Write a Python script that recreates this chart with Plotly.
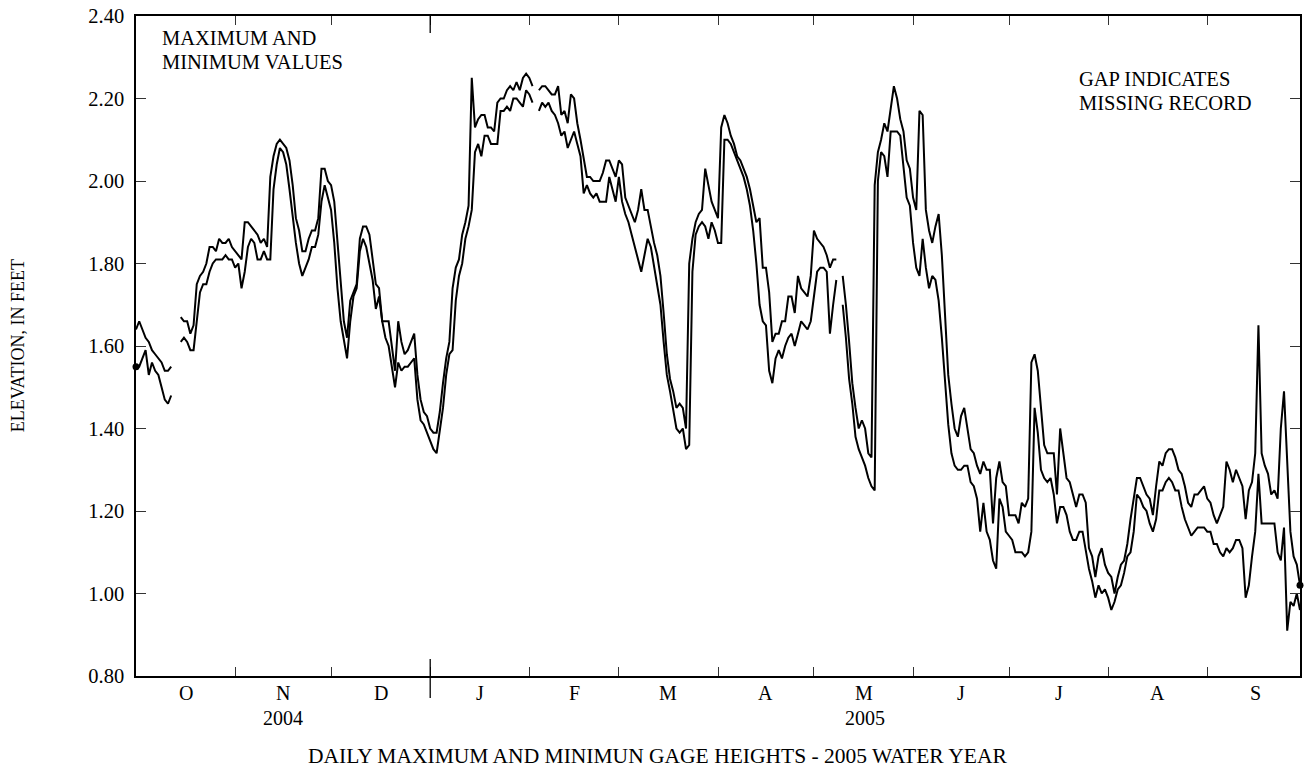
import pandas as pd
import plotly.graph_objects as go

# Daily maximum gage heights, 2005 water year (feet); None = missing record
daily_max = [
    1.64, 1.66, 1.64, 1.62, 1.61, 1.59, 1.58, 1.57, 1.56, 1.54,
    1.54, 1.55, None, None, 1.67, 1.66, 1.66, 1.63, 1.65, 1.75,
    1.77, 1.78, 1.80, 1.84, 1.84, 1.83, 1.86, 1.85, 1.85, 1.86,
    1.84, 1.83, 1.82, 1.81, 1.90, 1.90, 1.89, 1.88, 1.87, 1.85,
    1.86, 1.84, 2.01, 2.06, 2.09, 2.10, 2.09, 2.08, 2.05, 1.99,
    1.91, 1.88, 1.83, 1.83, 1.86, 1.88, 1.88, 1.91, 2.03, 2.03,
    2.00, 1.99, 1.95, 1.86, 1.75, 1.66, 1.62, 1.71, 1.73, 1.75,
    1.86, 1.89, 1.89, 1.87, 1.81, 1.75, 1.74, 1.66, 1.66, 1.66,
    1.60, 1.54, 1.66, 1.61, 1.58, 1.59, 1.61, 1.63, 1.53, 1.47,
    1.44, 1.43, 1.40, 1.39, 1.39, 1.44, 1.51, 1.57, 1.61, 1.74,
    1.79, 1.81, 1.87, 1.90, 1.94, 2.25, 2.13, 2.15, 2.16, 2.16,
    2.13, 2.13, 2.12, 2.19, 2.20, 2.20, 2.22, 2.23, 2.22, 2.24,
    2.22, 2.25, 2.26, 2.25, 2.23, None, 2.22, 2.23, 2.23, 2.22,
    2.21, 2.21, 2.23, 2.16, 2.17, 2.14, 2.21, 2.20, 2.14, 2.10,
    2.05, 2.01, 2.01, 2.00, 2.00, 2.00, 2.02, 2.05, 2.05, 2.03,
    2.01, 2.05, 2.04, 1.96, 1.94, 1.92, 1.90, 1.93, 1.98, 1.93,
    1.93, 1.89, 1.85, 1.82, 1.77, 1.68, 1.58, 1.52, 1.49, 1.45,
    1.46, 1.45, 1.40, 1.80, 1.86, 1.90, 1.92, 1.93, 2.03, 1.99,
    1.95, 1.93, 1.91, 2.13, 2.16, 2.14, 2.11, 2.09, 2.06, 2.05,
    2.03, 2.01, 1.98, 1.94, 1.90, 1.91, 1.79, 1.79, 1.73, 1.61,
    1.63, 1.63, 1.66, 1.66, 1.72, 1.72, 1.68, 1.77, 1.74, 1.73,
    1.72, 1.77, 1.88, 1.86, 1.85, 1.84, 1.82, 1.79, 1.81, 1.81,
    None, 1.77, 1.70, 1.61, 1.51, 1.45, 1.40, 1.42, 1.40, 1.34,
    1.33, 1.99, 2.07, 2.10, 2.14, 2.12, 2.17, 2.23, 2.20, 2.15,
    2.12, 2.05, 2.03, 1.96, 1.93, 2.17, 2.16, 1.93, 1.88, 1.85,
    1.89, 1.92, 1.82, 1.68, 1.53, 1.46, 1.40, 1.38, 1.43, 1.45,
    1.40, 1.35, 1.34, 1.31, 1.29, 1.32, 1.30, 1.30, 1.17, 1.28,
    1.32, 1.27, 1.26, 1.19, 1.19, 1.19, 1.17, 1.22, 1.21, 1.23,
    1.56, 1.58, 1.54, 1.44, 1.36, 1.34, 1.34, 1.34, 1.24, 1.40,
    1.34, 1.28, 1.27, 1.24, 1.21, 1.24, 1.24, 1.22, 1.11, 1.09,
    1.04, 1.09, 1.11, 1.07, 1.05, 1.04, 1.00, 1.04, 1.07,
    1.08, 1.12, 1.18, 1.23, 1.28, 1.28, 1.26, 1.24, 1.23, 1.19,
    1.26, 1.32, 1.31, 1.34, 1.35, 1.35, 1.33, 1.30, 1.29, 1.26,
    1.22, 1.21, 1.24, 1.24, 1.25, 1.26, 1.23, 1.22, 1.19, 1.17,
    1.19, 1.21, 1.32, 1.30, 1.27, 1.30, 1.28, 1.26, 1.18, 1.25,
    1.27, 1.34, 1.65, 1.34, 1.31, 1.29, 1.24, 1.25, 1.23, 1.40,
    1.49, 1.32, 1.15, 1.09, 1.07, 1.02,
]

# Daily minimum gage heights, 2005 water year (feet); None = missing record
daily_min = [
    1.55, 1.55, 1.57, 1.59, 1.53, 1.56, 1.54, 1.53, 1.50, 1.47,
    1.46, 1.48, None, None, 1.61, 1.62, 1.61, 1.59, 1.59, 1.66,
    1.73, 1.75, 1.75, 1.78, 1.80, 1.81, 1.81, 1.81, 1.82, 1.81,
    1.81, 1.79, 1.80, 1.74, 1.78, 1.84, 1.86, 1.85, 1.81, 1.81,
    1.83, 1.81, 1.81, 1.98, 2.04, 2.08, 2.07, 2.04, 1.98, 1.91,
    1.85, 1.80, 1.77, 1.79, 1.81, 1.84, 1.84, 1.87, 1.95, 1.99,
    1.96, 1.93, 1.85, 1.74, 1.66, 1.61, 1.57, 1.66, 1.72, 1.74,
    1.83, 1.86, 1.84, 1.80, 1.76, 1.69, 1.72, 1.66, 1.62, 1.60,
    1.55, 1.50, 1.56, 1.54, 1.55, 1.55, 1.56, 1.57, 1.47, 1.42,
    1.41, 1.39, 1.37, 1.35, 1.34, 1.39, 1.45, 1.53, 1.58, 1.59,
    1.71, 1.77, 1.80, 1.86, 1.89, 1.93, 2.07, 2.09, 2.06, 2.11,
    2.11, 2.09, 2.09, 2.09, 2.17, 2.17, 2.18, 2.17, 2.20, 2.20,
    2.19, 2.18, 2.22, 2.21, 2.19, None, 2.17, 2.19, 2.18, 2.19,
    2.17, 2.16, 2.14, 2.11, 2.12, 2.08, 2.10, 2.12, 2.09, 2.06,
    1.97, 1.99, 1.97, 1.96, 1.97, 1.95, 1.95, 1.95, 2.01, 1.98,
    1.95, 2.01, 1.95, 1.92, 1.90, 1.87, 1.84, 1.81, 1.78, 1.82,
    1.86, 1.84, 1.79, 1.75, 1.70, 1.61, 1.53, 1.49, 1.44, 1.40,
    1.39, 1.40, 1.35, 1.36, 1.78, 1.87, 1.89, 1.90, 1.89, 1.86,
    1.90, 1.88, 1.85, 1.85, 2.10, 2.10, 2.09, 2.07, 2.05, 2.03,
    2.01, 1.98, 1.94, 1.88, 1.80, 1.70, 1.66, 1.65, 1.54, 1.51,
    1.57, 1.59, 1.57, 1.60, 1.62, 1.63, 1.60, 1.63, 1.66, 1.65,
    1.64, 1.66, 1.72, 1.78, 1.79, 1.79, 1.78, 1.63, 1.70, 1.76,
    None, 1.70, 1.62, 1.52, 1.46, 1.38, 1.35, 1.33, 1.31, 1.28,
    1.26, 1.25, 2.00, 2.07, 2.06, 2.01, 2.12, 2.12, 2.12, 2.11,
    2.04, 1.96, 1.94, 1.85, 1.79, 1.77, 1.86, 1.79, 1.74, 1.77,
    1.76, 1.71, 1.62, 1.52, 1.41, 1.34, 1.31, 1.30, 1.30, 1.31,
    1.31, 1.27, 1.26, 1.23, 1.15, 1.22, 1.15, 1.13, 1.08, 1.06,
    1.23, 1.21, 1.15, 1.14, 1.13, 1.10, 1.10, 1.10, 1.09, 1.10,
    1.15, 1.45, 1.39, 1.30, 1.28, 1.27, 1.28, 1.24, 1.17, 1.21,
    1.21, 1.19, 1.15, 1.13, 1.13, 1.15, 1.15, 1.10, 1.06, 1.03,
    0.99, 1.02, 1.00, 1.01, 0.99, 0.96, 0.98, 1.01, 1.02,
    1.05, 1.09, 1.10, 1.15, 1.24, 1.23, 1.21, 1.20, 1.17, 1.15,
    1.18, 1.25, 1.25, 1.27, 1.28, 1.27, 1.25, 1.25, 1.21, 1.18,
    1.16, 1.14, 1.15, 1.16, 1.16, 1.16, 1.15, 1.15, 1.12, 1.12,
    1.10, 1.09, 1.11, 1.10, 1.11, 1.13, 1.13, 1.11, 0.99, 1.02,
    1.09, 1.15, 1.29, 1.17, 1.17, 1.17, 1.17, 1.17, 1.10, 1.08,
    1.16, 0.91, 0.98, 0.97, 1.00, 0.96,
]

# Gage height at the start and at the end of the water year
start_value = 1.55
end_value = 1.02

month_letters = ["O", "N", "D", "J", "F", "M", "A", "M", "J", "J", "A", "S"]
year_labels = ["2004", "2005"]
y_tick_values = [0.80, 1.00, 1.20, 1.40, 1.60, 1.80, 2.00, 2.20, 2.40]

SERIF = "Liberation Serif, Times New Roman, serif"
W, H = 1304, 770
ML, MR, MT, MB = 136, 2, 16, 94
plot_w = W - ML - MR
plot_h = H - MT - MB


def px_x(px):
    """Page pixel column -> paper x fraction."""
    return (px - ML) / plot_w


def px_y(py):
    """Page pixel row -> paper y fraction."""
    return 1 - (py - MT) / plot_h


dates = pd.date_range("2004-10-01", periods=len(daily_max), freq="D")
month_starts = pd.date_range("2004-10-01", "2005-10-01", freq="MS")

fig = go.Figure()
fig.add_trace(go.Scatter(x=dates, y=daily_max, mode="lines", connectgaps=False,
                         line=dict(color="black", width=2), hoverinfo="skip"))
fig.add_trace(go.Scatter(x=dates, y=daily_min, mode="lines", connectgaps=False,
                         line=dict(color="black", width=2), hoverinfo="skip"))
fig.add_trace(go.Scatter(x=[dates[0], dates[-1]], y=[start_value, end_value],
                         mode="markers", cliponaxis=False,
                         marker=dict(color="black", size=7), hoverinfo="skip"))

annotations = []
# month initials centred in each month
for i, letter in enumerate(month_letters):
    a, b = month_starts[i], month_starts[i + 1]
    mid = a + (b - a) / 2
    annotations.append(dict(x=mid, y=px_y(693), xref="x", yref="paper",
                            text=letter, showarrow=False, yanchor="middle",
                            font=dict(family=SERIF, size=20, color="black")))
# calendar-year labels
year_spans = [(pd.Timestamp("2004-10-01"), pd.Timestamp("2005-01-01")),
              (pd.Timestamp("2005-01-01"), dates[-1])]
for label, (a, b) in zip(year_labels, year_spans):
    annotations.append(dict(x=a + (b - a) / 2, y=px_y(718), xref="x", yref="paper",
                            text=label, showarrow=False, yanchor="middle",
                            font=dict(family=SERIF, size=20, color="black")))

# notes inside the plot
for txt, px, py in [("MAXIMUM AND", 160, 38.5), ("MINIMUM VALUES", 160, 61.5),
                    ("GAP INDICATES", 1079, 79.5), ("MISSING RECORD", 1079, 102.5)]:
    annotations.append(dict(x=px_x(px), y=px_y(py), xref="paper", yref="paper",
                            text=txt, showarrow=False,
                            xanchor="left", yanchor="middle",
                            font=dict(family=SERIF, size=20.5, color="black")))

# axis titles
annotations.append(dict(x=px_x(658), y=px_y(756), xref="paper", yref="paper",
                        text="DAILY MAXIMUM AND MINIMUN GAGE HEIGHTS - 2005 WATER YEAR",
                        showarrow=False, xanchor="center", yanchor="middle",
                        font=dict(family=SERIF, size=21.5, color="black")))
annotations.append(dict(x=px_x(18), y=0.5, xref="paper", yref="paper",
                        text="ELEVATION, IN FEET", textangle=-90, showarrow=False,
                        xanchor="center", yanchor="middle",
                        font=dict(family=SERIF, size=18, color="black")))

# longer tick marking the change of calendar year
jan1 = pd.Timestamp("2005-01-01")
shapes = [
    dict(type="line", xref="x", yref="paper", x0=jan1, x1=jan1,
         y0=-22 / plot_h, y1=17 / plot_h, line=dict(color="black", width=1.3)),
    dict(type="line", xref="x", yref="paper", x0=jan1, x1=jan1,
         y0=1, y1=1 - 17 / plot_h, line=dict(color="black", width=1.3)),
]

fig.update_layout(
    width=W, height=H,
    margin=dict(l=ML, r=MR, t=MT, b=MB, pad=0),
    paper_bgcolor="white", plot_bgcolor="white",
    showlegend=False,
    font=dict(family=SERIF, color="black"),
    annotations=annotations,
    shapes=shapes,
    xaxis=dict(
        type="date", range=[dates[0], dates[-1]],
        tickmode="array", tickvals=list(month_starts[1:-1]),
        ticks="inside", ticklen=9, tickwidth=1, tickcolor="#333",
        showticklabels=False, showgrid=False, zeroline=False,
        showline=True, linecolor="black", linewidth=1.5, mirror="ticks",
    ),
    yaxis=dict(
        range=[0.8, 2.4], tickmode="array", tickvals=y_tick_values,
        ticktext=[f"{v:.2f}" for v in y_tick_values],
        ticks="inside", ticklen=10, tickwidth=1, tickcolor="#333",
        tickfont=dict(family=SERIF, size=20.5, color="black"),
        ticklabelstandoff=6,
        showgrid=False, zeroline=False,
        showline=True, linecolor="black", linewidth=1.5, mirror="ticks",
    ),
)

fig.write_html("out.html")
